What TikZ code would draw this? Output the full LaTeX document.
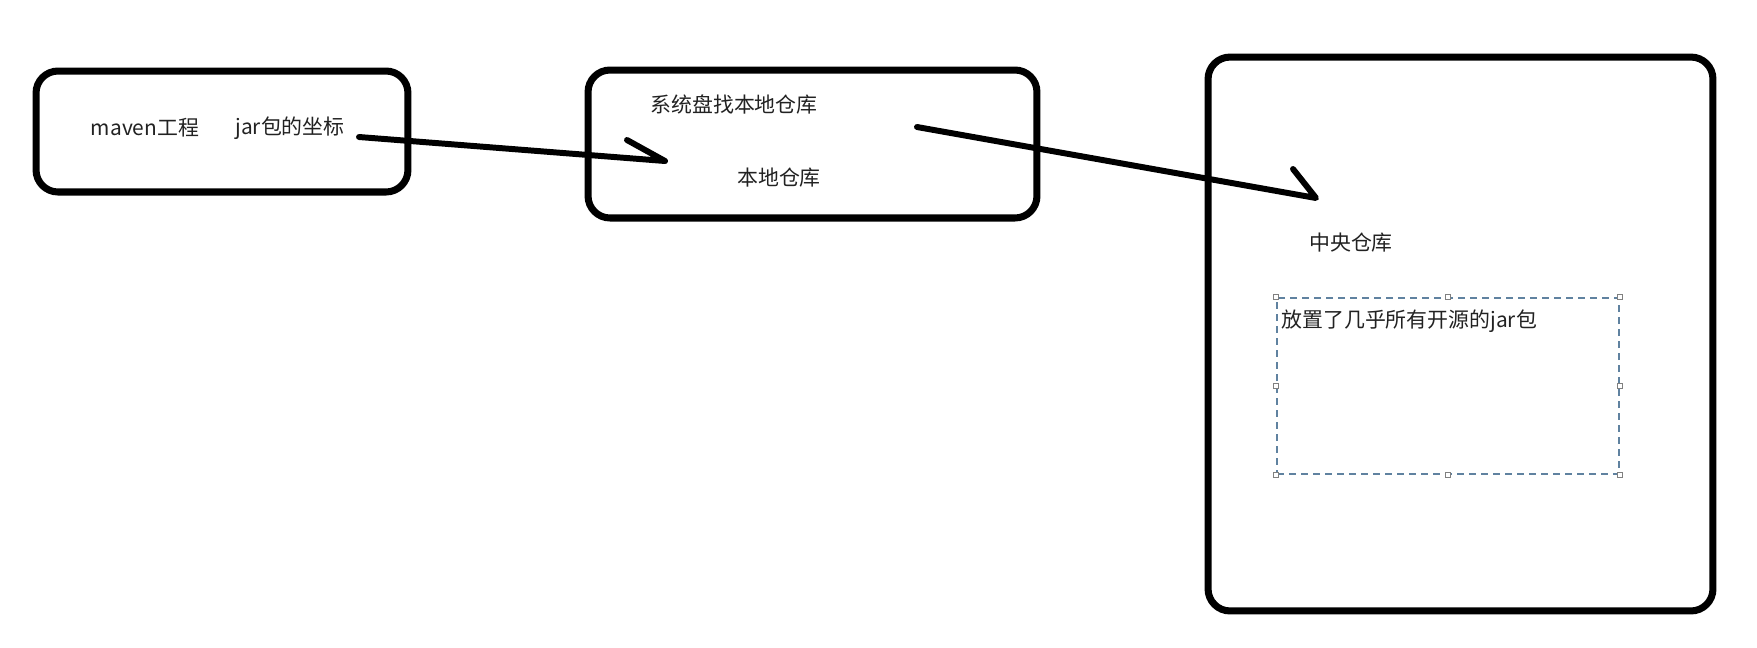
\documentclass[tikz,border=0pt]{standalone}
\usepackage{fontspec}
\setmainfont{Noto Sans CJK SC}
\definecolor{frameblue}{RGB}{96,130,160}
\definecolor{inkgray}{RGB}{34,34,34}
\begin{document}
\begin{tikzpicture}[x=0.02cm, y=-0.02cm,
    box/.style={draw, line width=4pt, rounded corners=0.44cm, inner sep=0pt},
    txt/.style={inner sep=0pt, text=inkgray, font=\fontsize{11.9}{14}\selectfont},
    stroke/.style={line width=3.4pt, line cap=round, line join=round},
    handle/.style={draw=gray, fill=white, line width=0.5pt, minimum size=0.1cm, inner sep=0pt}]
    \useasboundingbox (0,0) rectangle (1757,647);

    % maven project
    \node[box, minimum width=7.44cm, minimum height=2.42cm] at (222,131.5) (project) {};
    \node[txt] at (145,128) (maven) {maven工程};
    \node[txt] at (290,128) (coord) {jar包的坐标};

    % local repository
    \node[box, minimum width=8.98cm, minimum height=2.96cm] at (812.5,144) (local) {};
    \node[txt] at (734,104) (search) {系统盘找本地仓库};
    \node[txt] at (779,178) (localname) {本地仓库};

    % central repository
    \node[box, minimum width=10.1cm, minimum height=11.08cm] at (1460.5,334) (central) {};
    \node[txt] at (1351,243) (centralname) {中央仓库};
    \node[draw=frameblue, line width=0.7pt, dash pattern=on 0.14cm off 0.1cm,
          minimum width=6.84cm, minimum height=3.52cm, inner sep=0pt] at (1448,386) (store) {};
    \foreach \a in {north west, north, north east, east, south east, south, south west, west}
        \node[handle] at (store.\a) {};
    \node[txt, anchor=west] at (1281,321) (storetext) {放置了几乎所有开源的jar包};

    % hand-drawn arrows
    \coordinate (from_1) at (359,137);
    \coordinate (tip_1) at (665,161);
    \coordinate (barb_1) at (627,140);
    \draw[stroke] (from_1) -- (tip_1) -- (barb_1);

    \coordinate (from_2) at (917,127);
    \coordinate (tip_2) at (1316,198);
    \coordinate (barb_2) at (1293,169);
    \draw[stroke] (from_2) -- (tip_2) -- (barb_2);
\end{tikzpicture}
\end{document}
